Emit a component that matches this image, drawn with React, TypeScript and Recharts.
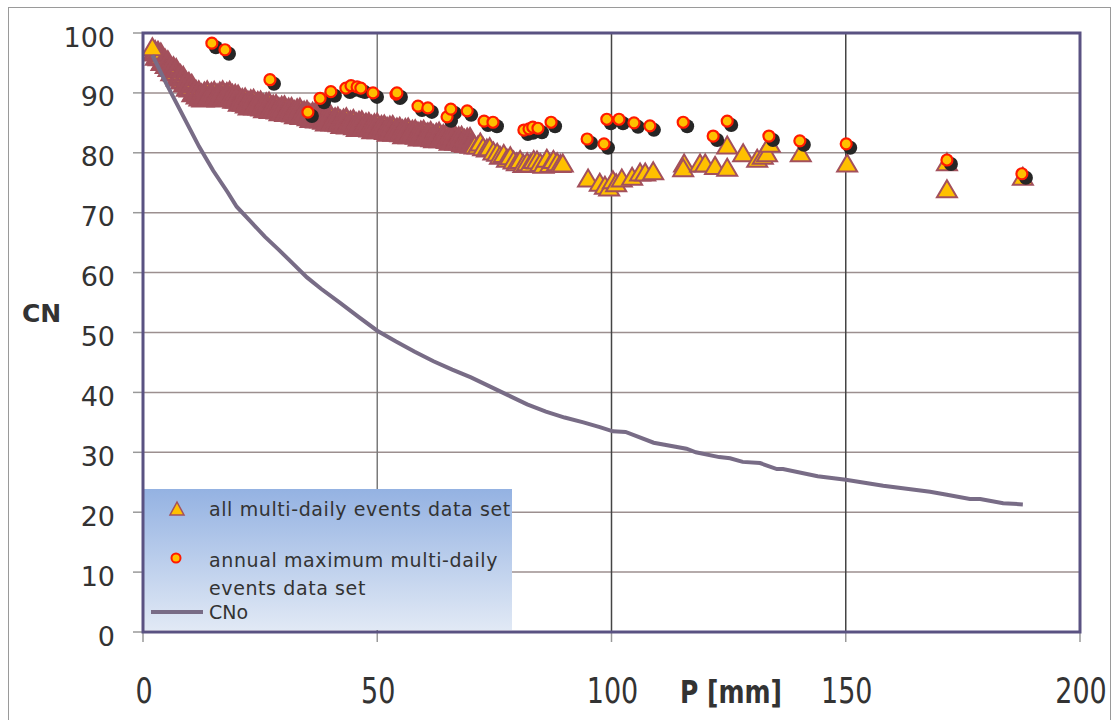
import React from 'react';
import { ScatterChart, Scatter, XAxis, YAxis, CartesianGrid, ReferenceLine } from 'recharts';

const xTicks = [0, 50, 100, 150, 200];
const yTicks = [0, 10, 20, 30, 40, 50, 60, 70, 80, 90, 100];

// all multi-daily events data set (dense part, P 2–70 mm)
const allDenseP = [
  2.3, 2.6, 2.9, 3.2, 3.5, 3.8, 4.1, 4.4, 4.7, 5.0, 5.3, 5.6, 5.9, 6.2, 6.5, 6.8, 7.1, 7.4, 7.7,
  8.0, 8.3, 8.6, 8.9, 9.2, 9.5, 9.8, 10.1, 10.4, 10.7, 11.0, 11.3, 11.6, 11.9, 12.2, 12.5, 12.8, 13.1, 13.4, 13.7,
  14.0, 14.3, 14.6, 14.9, 15.2, 15.5, 15.8, 16.1, 16.4, 16.7, 17.0, 17.3, 17.6, 17.9, 18.2, 18.5, 18.8, 19.1, 19.4, 19.7,
  20.0, 20.3, 20.6, 20.9, 21.2, 21.5, 21.8, 22.1, 22.4, 22.7, 23.0, 23.3, 23.6, 23.9, 24.2, 24.5, 24.8, 25.1, 25.4, 25.7,
  26.0, 26.3, 26.6, 26.9, 27.2, 27.5, 27.8, 28.1, 28.4, 28.7, 29.0, 29.3, 29.6, 29.9, 30.2, 30.5, 30.8, 31.1, 31.4, 31.7,
  32.0, 32.3, 32.6, 32.9, 33.2, 33.5, 33.8, 34.1, 34.4, 34.7, 35.0, 35.3, 35.6, 35.9, 36.2, 36.5, 36.8, 37.1, 37.4, 37.7,
  38.0, 38.3, 38.6, 38.9, 39.2, 39.5, 39.8, 40.1, 40.4, 40.7, 41.0, 41.3, 41.6, 41.9, 42.2, 42.5, 42.8, 43.1, 43.4, 43.7,
  44.0, 44.3, 44.6, 44.9, 45.2, 45.5, 45.8, 46.1, 46.4, 46.7, 47.0, 47.3, 47.6, 47.9, 48.2, 48.5, 48.8, 49.1, 49.4, 49.7,
  50.0, 50.3, 50.6, 50.9, 51.2, 51.5, 51.8, 52.1, 52.4, 52.7, 53.0, 53.3, 53.6, 53.9, 54.2, 54.5, 54.8, 55.1, 55.4, 55.7,
  56.0, 56.3, 56.6, 56.9, 57.2, 57.5, 57.8, 58.1, 58.4, 58.7, 59.0, 59.3, 59.6, 59.9, 60.2, 60.5, 60.8, 61.1, 61.4, 61.7,
  62.0, 62.3, 62.6, 62.9, 63.2, 63.5, 63.8, 64.1, 64.4, 64.7, 65.0, 65.3, 65.6, 65.9, 66.2, 66.5, 66.8, 67.1, 67.4, 67.7,
  68.0, 68.3, 68.6, 68.9, 69.2, 69.5, 69.8, 70.1,
];
const allDenseCN = [
  96.9, 97.1, 96.2, 97.0, 96.1, 96.7, 95.3, 95.6, 95.7, 94.8, 95.4, 94.3, 94.5, 93.6, 94.4, 93.5, 94.1, 92.7, 93.0,
  93.1, 92.2, 92.8, 91.7, 91.9, 91.0, 91.8, 90.9, 91.5, 90.1, 90.4, 90.5, 89.7, 90.4, 89.4, 89.9, 89.2, 90.2, 89.6, 90.4,
  89.3, 89.8, 90.1, 89.5, 90.3, 89.4, 89.9, 89.2, 90.2, 89.6, 90.4, 89.3, 89.8, 90.1, 89.5, 90.3, 89.4, 89.8, 89.0, 89.8,
  89.0, 89.7, 88.5, 88.9, 89.1, 88.5, 89.2, 88.2, 88.7, 87.9, 88.9, 88.2, 89.0, 87.9, 88.3, 88.6, 87.9, 88.7, 87.7, 88.2,
  87.4, 88.4, 87.7, 88.5, 87.3, 87.8, 88.0, 87.4, 88.1, 87.2, 87.6, 86.9, 87.8, 87.2, 87.9, 86.8, 87.2, 87.5, 86.9, 87.6,
  86.7, 87.1, 86.4, 87.4, 86.7, 87.5, 86.3, 86.8, 87.0, 86.4, 87.1, 86.1, 86.6, 85.8, 86.8, 86.1, 86.8, 85.7, 86.1, 86.4,
  85.7, 86.5, 85.5, 86.0, 85.2, 86.2, 85.5, 86.3, 85.2, 85.6, 85.9, 85.2, 86.0, 85.1, 85.5, 84.8, 85.7, 85.1, 85.9, 84.7,
  85.2, 85.4, 84.8, 85.6, 84.6, 85.1, 84.3, 85.3, 84.7, 85.4, 84.3, 84.7, 85.0, 84.4, 85.1, 84.2, 84.7, 83.9, 84.9, 84.2,
  85.0, 83.9, 84.3, 84.6, 84.0, 84.7, 83.8, 84.3, 83.5, 84.5, 83.8, 84.6, 83.5, 83.9, 84.2, 83.6, 84.3, 83.4, 83.9, 83.1,
  84.1, 83.4, 84.2, 83.1, 83.5, 83.8, 83.2, 83.9, 83.0, 83.5, 82.7, 83.7, 83.1, 83.8, 82.7, 83.2, 83.4, 82.8, 83.6, 82.6,
  83.1, 82.4, 83.3, 82.7, 83.5, 82.4, 82.8, 83.1, 82.5, 83.2, 82.3, 82.8, 82.0, 83.0, 82.3, 83.1, 82.0, 82.4, 82.7, 82.0,
  82.8, 81.8, 82.3, 81.6, 82.5, 81.9, 82.6, 81.5,
];

// all multi-daily events data set (first point and sparser part, P > 70 mm)
const allSparseP = [
  2.0,
  70.8, 71.5, 72.0, 72.6, 73.4, 74.0, 74.8, 75.6, 76.2, 77.0, 77.7, 78.4, 79.1, 79.8,
  80.5, 81.2, 82.0, 82.7, 83.4, 84.1, 84.8, 85.5, 86.2, 86.9, 87.6, 88.4, 89.1, 89.6,
  95.0, 97.5, 98.6, 99.5, 100.3, 101.0, 102.2, 104.4, 106.1, 107.2, 108.9,
  115.5, 115.3, 118.9, 120.0, 122.1, 124.7, 124.7, 128.1, 131.1, 132.3, 133.2, 133.8,
  140.4, 150.3, 171.6, 171.6, 187.8,
];
const allSparseCN = [
  97.7,
  81.3, 81.3, 81.8, 81.0, 80.8, 81.0, 80.3, 80.1, 79.6, 79.9, 79.1, 79.5, 78.8, 78.5,
  78.9, 78.2, 78.5, 78.3, 78.9, 78.8, 78.4, 78.1, 79.1, 78.2, 78.9, 78.5, 78.2, 78.3,
  75.8, 75.1, 74.6, 74.3, 75.5, 75.0, 75.8, 76.1, 76.8, 76.8, 77.0,
  78.3, 77.5, 78.3, 78.3, 77.9, 77.6, 81.3, 80.0, 79.1, 79.6, 80.0, 81.6,
  80.0, 78.3, 78.5, 74.0, 76.1,
];

// annual maximum multi-daily events data set
const annualP = [
  14.7, 17.5, 27.1, 35.2, 37.8, 40.1, 43.3, 44.4, 45.7, 46.5, 49.1, 54.0, 54.2, 58.7, 60.8, 64.9, 65.7,
  69.2, 72.8, 74.7, 81.3, 82.4, 83.2, 84.3, 87.1, 94.8, 98.4, 99.0, 101.6, 104.8, 108.2, 115.3, 121.7,
  124.7, 133.6, 140.2, 150.1, 171.6, 187.6,
];
const annualCN = [
  98.3, 97.2, 92.2, 86.8, 89.1, 90.2, 90.8, 91.2, 91.0, 90.8, 90.0, 89.8, 90.0, 87.8, 87.5, 86.0, 87.3,
  87.0, 85.3, 85.1, 83.8, 84.0, 84.3, 84.1, 85.1, 82.3, 81.5, 85.6, 85.6, 85.0, 84.5, 85.1, 82.8,
  85.3, 82.8, 82.0, 81.5, 78.8, 76.5,
];

// CNo curve
const cnoP = [
  2, 5, 8, 10, 12, 15, 18, 20, 23, 26, 29, 32, 35, 38, 42, 46, 50, 54, 58, 62, 66, 70, 74, 78, 82, 86, 90, 94,
  97.5, 100.3, 103, 109, 116, 118, 123, 125.3, 128, 131.7, 135.3, 136.6, 144, 150, 158, 168, 171.6, 176.5,
  178.7, 183.6, 187.8,
];
const cnoCN = [
  96.3, 91.5, 87, 84, 81, 77, 73.5, 71, 68.5, 66, 63.8, 61.5, 59.2, 57.3, 55, 52.6, 50.3, 48.5, 46.8, 45.2,
  43.8, 42.5, 41, 39.5, 38, 36.8, 35.8, 35, 34.2, 33.5, 33.4, 31.6, 30.6, 30, 29.2, 29, 28.4, 28.2, 27.2,
  27.2, 26, 25.4, 24.4, 23.4, 22.9, 22.2, 22.2, 21.5, 21.3,
];

const denseData = allDenseP.map((p, i) => ({ x: p, y: allDenseCN[i] }));
const sparseData = allSparseP.map((p, i) => ({ x: p, y: allSparseCN[i] }));
const annualData = annualP.map((p, i) => ({ x: p, y: annualCN[i] }));
const cnoData = cnoP.map((p, i) => ({ x: p, y: cnoCN[i] }));

const FONT = '"DejaVu Sans", Verdana, sans-serif';
const TRI_FILL = '#ffc000';
const TRI_STROKE = '#a3505c';

const triPoints = (cx: number, cy: number) => {
  const w = 20;
  const h = 17;
  return `${cx},${cy - h / 2} ${cx + w / 2},${cy + h / 2} ${cx - w / 2},${cy + h / 2}`;
};

const Triangle = (props: any) => {
  const { cx, cy } = props;
  if (cx == null || cy == null) return <g />;
  return <polygon points={triPoints(cx, cy)} fill={TRI_FILL} stroke={TRI_STROKE} strokeWidth={2} />;
};

const TriangleFill = (props: any) => {
  const { cx, cy } = props;
  if (cx == null || cy == null) return <g />;
  return <polygon points={triPoints(cx, cy)} fill={TRI_FILL} stroke="none" />;
};

const TriangleStroke = (props: any) => {
  const { cx, cy } = props;
  if (cx == null || cy == null) return <g />;
  return <polygon points={triPoints(cx, cy)} fill="none" stroke={TRI_STROKE} strokeWidth={2.8} />;
};

const Shadow = (props: any) => {
  const { cx, cy } = props;
  if (cx == null || cy == null) return <g />;
  return <circle cx={cx + 4} cy={cy + 4} r={7} fill="#262626" />;
};

const Dot = (props: any) => {
  const { cx, cy } = props;
  if (cx == null || cy == null) return <g />;
  return <circle cx={cx} cy={cy} r={5.5} fill="#ffc000" stroke="#ff1a00" strokeWidth={2.2} />;
};

const Empty = () => <g />;

const YTick = (props: any) => {
  const { y, payload } = props;
  return (
    <text x={115} y={y + 13.5} textAnchor="end" fontFamily={FONT} fontSize={27} fill="#333">
      {payload.value}
    </text>
  );
};

const XTick = (props: any) => {
  const { x, payload } = props;
  return (
    <g transform={`translate(${x + 1},${703}) scale(1,1.3)`}>
      <text x={0} y={0} textAnchor="middle" fontFamily={FONT} fontSize={27} fill="#333">
        {payload.value}
      </text>
    </g>
  );
};

export default function App() {
  return (
    <div style={{ position: 'absolute', left: 0, top: 0, width: 1114, height: 720, background: '#fff' }}>
      <ScatterChart width={1114} height={720} margin={{ top: 33, right: 34, bottom: 0, left: 0 }}>
        <CartesianGrid horizontal vertical={false} stroke="#9c8f8f" strokeWidth={1.5} />
        <ReferenceLine x={50} stroke="#7a7a7a" strokeWidth={1.5} />
        <ReferenceLine x={100} stroke="#444" strokeWidth={1.5} />
        <ReferenceLine x={150} stroke="#444" strokeWidth={1.5} />
        <XAxis
          type="number"
          dataKey="x"
          domain={[0, 200]}
          ticks={xTicks}
          allowDataOverflow
          height={88}
          axisLine={false}
          tickLine={{ stroke: '#999', strokeWidth: 1.5 }}
          tickSize={10}
          tick={<XTick />}
          interval={0}
        />
        <YAxis
          type="number"
          dataKey="y"
          domain={[0, 100]}
          ticks={yTicks}
          allowDataOverflow
          width={143}
          axisLine={false}
          tickLine={{ stroke: '#999', strokeWidth: 1.5 }}
          tickSize={10}
          tick={<YTick />}
          interval={0}
        />
        <Scatter data={denseData} shape={<TriangleFill />} isAnimationActive={false} />
        <Scatter data={denseData} shape={<TriangleStroke />} isAnimationActive={false} />
        <Scatter data={sparseData} shape={<Triangle />} isAnimationActive={false} />
        <Scatter data={annualData} shape={<Shadow />} isAnimationActive={false} />
        <Scatter data={annualData} shape={<Dot />} isAnimationActive={false} />
        <Scatter
          data={cnoData}
          shape={<Empty />}
          line={{ stroke: '#786c86', strokeWidth: 4 }}
          lineJointType="linear"
          isAnimationActive={false}
        />
      </ScatterChart>
      <svg width={1114} height={720} style={{ position: 'absolute', left: 0, top: 0, pointerEvents: 'none' }}>
        <defs>
          <linearGradient id="lgGrad" x1="0" y1="0" x2="0" y2="1">
            <stop offset="0" stopColor="#94b2e2" />
            <stop offset="1" stopColor="#e1e9f5" />
          </linearGradient>
        </defs>
        <rect x={8.5} y={7.5} width={1102} height={730} fill="none" stroke="#9a9a9a" strokeWidth={1} />
        <rect x={143} y={489} width={369} height={141} fill="url(#lgGrad)" />
        <polygon points="177,502 184,515 170,515" fill="#ffc000" stroke="#a3505c" strokeWidth={1.5} />
        <circle cx={176} cy={558} r={4.5} fill="#ffc000" stroke="#ff1a00" strokeWidth={2} />
        <line x1={151} y1={612} x2={203} y2={612} stroke="#786c86" strokeWidth={4} />
        <g fontFamily={FONT} fontSize={19} fill="#333" letterSpacing={0.6}>
          <text x={209} y={516}>all multi-daily events data set</text>
          <text x={209} y={567}>annual maximum multi-daily</text>
          <text x={209} y={595}>events data set</text>
          <text x={209} y={619} letterSpacing={0}>CNo</text>
        </g>
        <rect x={143} y={33} width={937} height={599} fill="none" stroke="#5a5282" strokeWidth={3} />
        <text x={22} y={322} fontFamily={FONT} fontSize={25} fontWeight="bold" fill="#333">CN</text>
        <g transform="translate(680,703) scale(1,1.25)">
          <text x={0} y={0} fontFamily={FONT} fontSize={25} fontWeight="bold" fill="#333">P [mm]</text>
        </g>
      </svg>
    </div>
  );
}
